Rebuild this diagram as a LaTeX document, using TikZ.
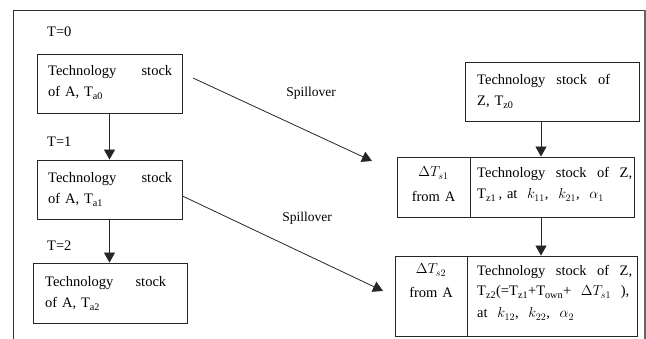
\documentclass[tikz,border=0pt]{standalone}
\usepackage{fontspec}
\setmainfont{Liberation Serif}
\usetikzlibrary{arrows.meta,calc}
\begin{document}
\begin{tikzpicture}[x=1pt,y=-1pt,
  box/.style={draw=black!85, line width=0.8pt, inner sep=0pt},
  txt/.style={inner sep=0pt, anchor=base west, align=left, font=\fontsize{14.5}{21}\selectfont},
  ctxt/.style={inner sep=0pt, anchor=base, text width=70pt, align=center, font=\fontsize{14.5}{21}\selectfont},
  lbl/.style={inner sep=0pt, anchor=base west, font=\fontsize{14.5}{18}\selectfont},
  spl/.style={inner sep=0pt, anchor=base, font=\fontsize{13.5}{16}\selectfont},
  arr/.style={draw=black!85, line width=0.8pt, -{Triangle[width=11pt,length=10pt]}}]
\useasboundingbox (0,0) rectangle (646,339);
% frame
\draw[black!80, line width=0.8pt] (13,339) -- (13,10) -- (645,10);
\draw[black!60, line width=1.4pt] (645,10) -- (645,339);
% left column boxes
\node[box, minimum width=145pt, minimum height=59pt] (a0) at (109.5,83.5) {};
\node[box, minimum width=145pt, minimum height=59pt] (a1) at (109.5,189.5) {};
\node[box, minimum width=154pt, minimum height=60pt] (a2) at (110,293) {};
% right column boxes
\node[box, minimum width=174pt, minimum height=59pt] (z0) at (552,91.5) {};
\node[box, minimum width=73pt, minimum height=60pt] (z1l) at (433.5,187) {};
\node[box, minimum width=164pt, minimum height=60pt] (z1r) at (552,187) {};
\node[box, minimum width=72pt, minimum height=80pt] (z2l) at (431,296) {};
\node[box, minimum width=170pt, minimum height=80pt] (z2r) at (552,296) {};
% texts
\node[lbl] (t0) at (47,37) {T=0};
\node[lbl] (t1) at (47,147) {T=1};
\node[lbl] (t2) at (47,251) {T=2};
\node[txt, text width=124pt] (a0t) at (48,76) {Technology\hfill stock\\of A, T\textsubscript{a0}};
\node[txt, text width=124pt] (a1t) at (48,183) {Technology\hfill stock\\of A, T\textsubscript{a1}};
\node[txt, text width=121pt] (a2t) at (45,287) {Technology\hfill stock\\of A, T\textsubscript{a2}};
\node[txt, text width=133pt] (z0t) at (477,85) {Technology\hfill stock\hfill of\\Z, T\textsubscript{z0}};
\node[txt, text width=155pt] (z1t) at (477,178) {Technology\hfill stock\hfill of\hfill Z,\\T\textsubscript{z1}\,, at\ \ $k_{11}$,\ \ $k_{21}$,\ \ $\alpha_1$};
\node[txt, text width=155pt] (z2t) at (477,276) {Technology\hfill stock\hfill of\hfill Z,\\[-1pt]T\textsubscript{z2}(=T\textsubscript{z1}+T\textsubscript{own}+\ \ $\Delta T_{s1}$\ \ ),\\[1pt]at\ \ $k_{12}$,\ \ $k_{22}$,\ \ $\alpha_2$};
\node[ctxt] (z1lt) at (433.5,177) {$\Delta T_{s1}$\\[4pt]from A};
\node[ctxt] (z2lt) at (431,274) {$\Delta T_{s2}$\\[3pt]from A};
\node[spl] (sp1) at (311,97) {Spillover};
\node[spl] (sp2) at (307,222) {Spillover};
% vertical arrows
\draw[arr] (a0.south) -- (a1.north);
\draw[arr] (a1.south) -- (a1.south |- a2.north);
\draw[arr] ([xshift=-11pt]z0.south) -- ([xshift=-11pt]z0.south |- z1r.north);
\draw[arr] ([xshift=-11pt]z1r.south) -- ([xshift=-11pt]z1r.south |- z2r.north);
% spillover arrows
\coordinate (s1a) at (193,78);
\coordinate (s1b) at (372,161);
\coordinate (s2b) at (383,291);
\draw[arr] (s1a) -- (s1b);
\draw[arr] ([yshift=-6.5pt]a1.east) -- (s2b);
\end{tikzpicture}
\end{document}
